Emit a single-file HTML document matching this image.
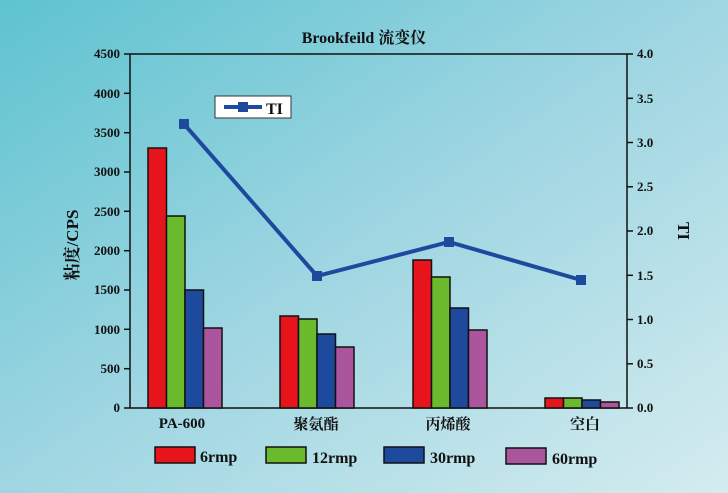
<!DOCTYPE html><html><head><meta charset="utf-8"><style>body{margin:0}svg{display:block}text{font-family:"Liberation Serif","Noto Serif CJK SC",serif;font-weight:bold;fill:#111}</style></head><body>
<svg width="728" height="493" viewBox="0 0 728 493" xmlns="http://www.w3.org/2000/svg">
<defs><linearGradient id="bg" x1="0" y1="0" x2="1" y2="1"><stop offset="0" stop-color="#5ec3d0"/><stop offset="0.5" stop-color="#9fd6e2"/><stop offset="1" stop-color="#d4ecef"/></linearGradient></defs>
<rect width="728" height="493" fill="url(#bg)"/>
<text x="364" y="43" text-anchor="middle" font-size="16">Brookfeild 流变仪</text>
<g stroke="#111" stroke-width="1.5" fill="none">
<path d="M130 54V408H627V54H130"/>
</g>
<g stroke="#111" stroke-width="1.5">
<line x1="124" y1="54" x2="130" y2="54"/><line x1="124" y1="93.3" x2="130" y2="93.3"/><line x1="124" y1="132.7" x2="130" y2="132.7"/><line x1="124" y1="172" x2="130" y2="172"/><line x1="124" y1="211.3" x2="130" y2="211.3"/><line x1="124" y1="250.7" x2="130" y2="250.7"/><line x1="124" y1="290" x2="130" y2="290"/><line x1="124" y1="329.3" x2="130" y2="329.3"/><line x1="124" y1="368.7" x2="130" y2="368.7"/><line x1="124" y1="408" x2="130" y2="408"/>
<line x1="627" y1="54" x2="633" y2="54"/><line x1="627" y1="98.3" x2="633" y2="98.3"/><line x1="627" y1="142.5" x2="633" y2="142.5"/><line x1="627" y1="186.8" x2="633" y2="186.8"/><line x1="627" y1="231" x2="633" y2="231"/><line x1="627" y1="275.3" x2="633" y2="275.3"/><line x1="627" y1="319.5" x2="633" y2="319.5"/><line x1="627" y1="363.8" x2="633" y2="363.8"/><line x1="627" y1="408" x2="633" y2="408"/>
</g>
<g font-size="13" text-anchor="end">
<text x="120" y="58">4500</text><text x="120" y="98">4000</text><text x="120" y="137">3500</text><text x="120" y="176">3000</text><text x="120" y="216">2500</text><text x="120" y="255">2000</text><text x="120" y="294">1500</text><text x="120" y="334">1000</text><text x="120" y="373">500</text><text x="120" y="412">0</text>
</g>
<g font-size="13">
<text x="637" y="58">4.0</text><text x="637" y="103">3.5</text><text x="637" y="147">3.0</text><text x="637" y="191">2.5</text><text x="637" y="235">2.0</text><text x="637" y="280">1.5</text><text x="637" y="324">1.0</text><text x="637" y="368">0.5</text><text x="637" y="412">0.0</text>
</g>
<text transform="translate(78,245) rotate(-90)" text-anchor="middle" font-size="17">粘度/CPS</text>
<text transform="translate(678,231) rotate(90)" text-anchor="middle" font-size="17">TI</text>
<g stroke="#111" stroke-width="1.5">
<rect x="148" y="148" width="18.5" height="260" fill="#e8141c"/><rect x="166.5" y="216" width="18.5" height="192" fill="#6bb92c"/><rect x="185" y="290" width="18.5" height="118" fill="#1e4a9e"/><rect x="203.5" y="328" width="18.5" height="80" fill="#ab559e"/>
<rect x="280" y="316" width="18.5" height="92" fill="#e8141c"/><rect x="298.5" y="319" width="18.5" height="89" fill="#6bb92c"/><rect x="317" y="334" width="18.5" height="74" fill="#1e4a9e"/><rect x="335.5" y="347" width="18.5" height="61" fill="#ab559e"/>
<rect x="413" y="260" width="18.5" height="148" fill="#e8141c"/><rect x="431.5" y="277" width="18.5" height="131" fill="#6bb92c"/><rect x="450" y="308" width="18.5" height="100" fill="#1e4a9e"/><rect x="468.5" y="330" width="18.5" height="78" fill="#ab559e"/>
<rect x="545" y="398" width="18.5" height="10" fill="#e8141c"/><rect x="563.5" y="398" width="18.5" height="10" fill="#6bb92c"/><rect x="582" y="400" width="18.5" height="8" fill="#1e4a9e"/><rect x="600.5" y="402" width="18.5" height="6" fill="#ab559e"/>
</g>
<polyline points="184,124 317,276 449,242 581,280" fill="none" stroke="#1e4a9e" stroke-width="4"/>
<g fill="#1e4a9e"><rect x="179" y="119" width="10" height="10"/><rect x="312" y="271" width="10" height="10"/><rect x="444" y="237" width="10" height="10"/><rect x="576" y="275" width="10" height="10"/></g>
<rect x="215" y="96" width="76" height="22" fill="#fff" stroke="#333" stroke-width="1"/>
<line x1="224" y1="107" x2="262" y2="107" stroke="#1e4a9e" stroke-width="4"/>
<rect x="238" y="102" width="10" height="10" fill="#1e4a9e"/>
<text x="266" y="114" font-size="16">TI</text>
<g font-size="15" text-anchor="middle"><text x="182" y="428">PA-600</text><text x="316" y="429">聚氨酯</text><text x="448" y="429">丙烯酸</text><text x="585" y="429">空白</text></g>
<g stroke="#111" stroke-width="1.5">
<rect x="155" y="447" width="40" height="16" fill="#e8141c"/><rect x="266" y="447" width="40" height="16" fill="#6bb92c"/><rect x="384" y="447" width="40" height="16" fill="#1e4a9e"/><rect x="506" y="448" width="40" height="16" fill="#ab559e"/>
</g>
<g font-size="16"><text x="200" y="462">6rmp</text><text x="312" y="463">12rmp</text><text x="430" y="463">30rmp</text><text x="552" y="464">60rmp</text></g>
</svg></body></html>
